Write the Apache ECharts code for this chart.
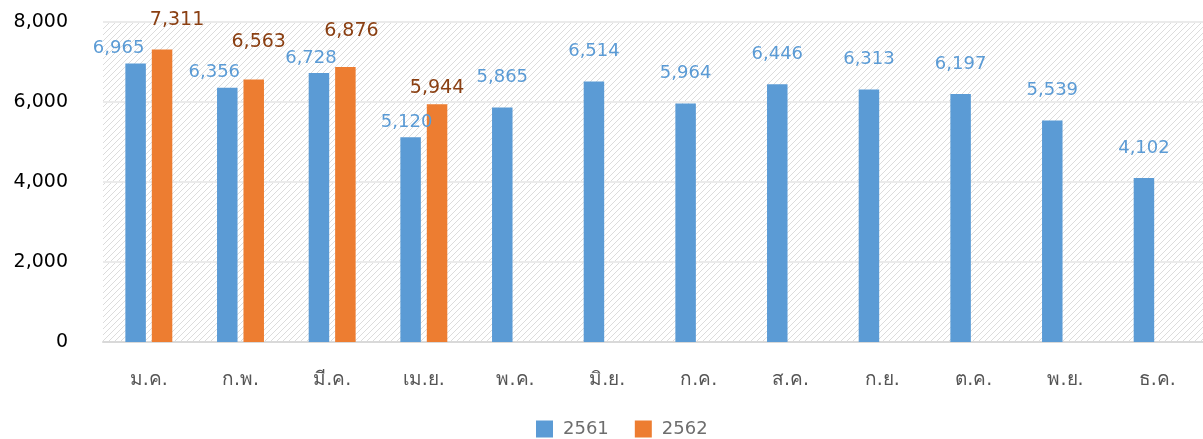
<!DOCTYPE html>
<html>
<head>
<meta charset="utf-8">
<script src="https://cdn.jsdelivr.net/npm/echarts@6/dist/echarts.min.js"></script>
<style>
  html, body { margin: 0; padding: 0; background: #fff; }
  #chart { width: 1203px; height: 439px; }
</style>
</head>
<body>
<div id="chart"></div>
<script>
const months = ["ม.ค.", "ก.พ.", "มี.ค.", "เม.ย.", "พ.ค.", "มิ.ย.", "ก.ค.", "ส.ค.", "ก.ย.", "ต.ค.", "พ.ย.", "ธ.ค."];
const y2561 = [6965, 6356, 6728, 5120, 5865, 6514, 5964, 6446, 6313, 6197, 5539, 4102];
const y2562 = [7311, 6563, 6876, 5944, null, null, null, null, null, null, null, null];
const seriesNames = ["2561", "2562"];

// label tweaks where labels crowd each other (first four months)
const blueLabelTweak = { 0: [-17, 6], 1: [-13, 6], 2: [-8, 6], 3: [-4, 6] };
const orangeLabelTweak = { 0: [15, 20], 1: [5, 28], 2: [6, 26], 3: [0, 7] };

// diagonal hatch for the plot background
const hatch = document.createElement("canvas");
hatch.width = 6;
hatch.height = 6;
const hc = hatch.getContext("2d");
hc.fillStyle = "#ffffff";
hc.fillRect(0, 0, 6, 6);
hc.strokeStyle = "#dcdcdc";
hc.lineWidth = 1;
hc.beginPath();
hc.moveTo(-1, 7); hc.lineTo(7, -1);
hc.moveTo(-1, 1); hc.lineTo(1, -1);
hc.moveTo(5, 7); hc.lineTo(7, 5);
hc.stroke();

function buildData(values, tweak, baseDist) {
  return values.map((v, i) => {
    const t = tweak[i];
    if (v == null || !t) return { value: v, label: { distance: baseDist } };
    return { value: v, label: { distance: t[1], offset: [t[0], 0] } };
  });
}

const fmt = (v) => v.toLocaleString("en-US");

const chart = echarts.init(document.getElementById("chart"));
chart.setOption({
  animation: false,
  grid: {
    left: 103,
    right: -9,
    top: 22,
    bottom: 97,
    show: true,
    borderWidth: 0,
    backgroundColor: { image: hatch, repeat: "repeat" }
  },
  legend: {
    left: 531,
    top: 415,
    itemWidth: 17,
    itemHeight: 17,
    itemGap: 26,
    icon: "rect",
    textStyle: { color: "#6e6e6e", fontSize: 18, fontFamily: "DejaVu Sans", padding: [0, 0, 0, 5] },
    data: seriesNames
  },
  xAxis: {
    type: "category",
    data: months,
    axisLine: { lineStyle: { color: "#d9d9d9", width: 2 } },
    axisTick: { show: false },
    axisLabel: { color: "#555555", fontSize: 19, margin: 29, fontFamily: "DejaVu Sans" }
  },
  yAxis: {
    type: "value",
    min: 0,
    max: 8000,
    interval: 2000,
    axisLine: { show: false },
    axisTick: { show: false },
    splitLine: { lineStyle: { color: "#ebebeb", width: 2 } },
    axisLabel: {
      color: "#000000",
      fontSize: 19,
      margin: 35,
      fontFamily: "DejaVu Sans",
      formatter: fmt
    }
  },
  series: [
    {
      name: seriesNames[0],
      type: "bar",
      barWidth: 20.5,
      barGap: "29%",
      itemStyle: { color: "#5b9bd5" },
      label: {
        show: true,
        position: "top",
        color: "#5b9bd5",
        fontSize: 18,
        fontFamily: "DejaVu Sans",
        formatter: (p) => fmt(p.value)
      },
      data: buildData(y2561, blueLabelTweak, 21)
    },
    {
      name: seriesNames[1],
      type: "bar",
      barWidth: 20.5,
      itemStyle: { color: "#ed7d31" },
      label: {
        show: true,
        position: "top",
        color: "#8a3f12",
        fontSize: 19,
        fontFamily: "DejaVu Sans",
        formatter: (p) => p.value == null ? "" : fmt(p.value)
      },
      data: buildData(y2562, orangeLabelTweak, 21)
    }
  ]
});
</script>
</body>
</html>
